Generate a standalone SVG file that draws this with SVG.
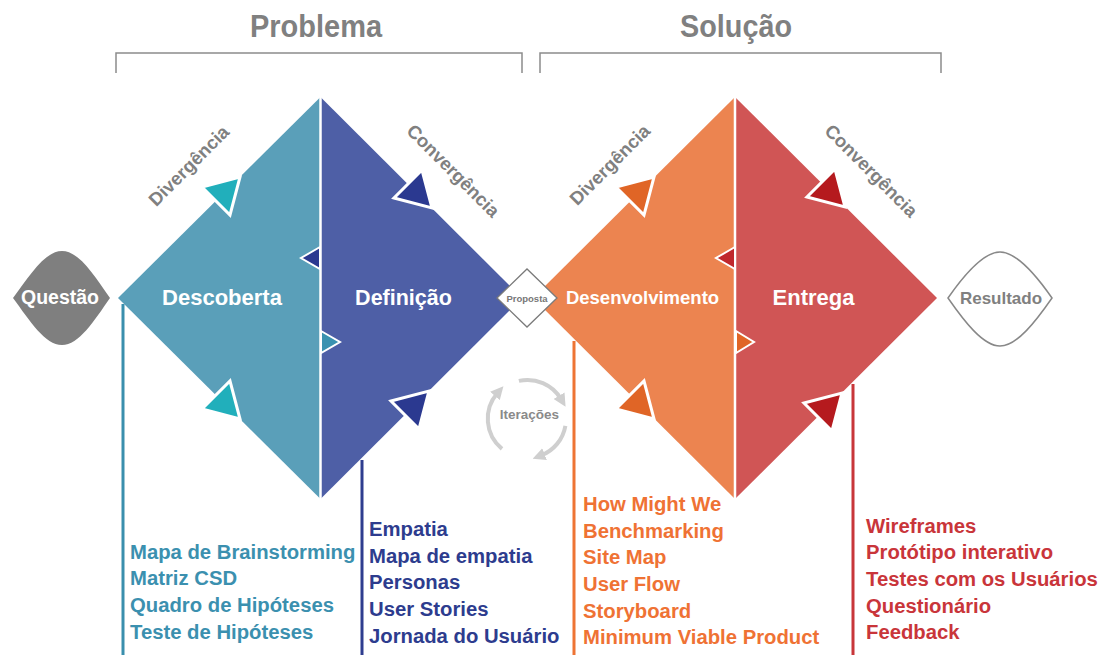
<svg xmlns="http://www.w3.org/2000/svg" width="1106" height="655" viewBox="0 0 1106 655">
<defs>
<style>
text{font-family:"Liberation Sans",Arial,Helvetica,sans-serif;font-weight:bold}
.title{font-size:32px;fill:#808080;text-anchor:middle}
.phase{font-size:18.5px;fill:#808080;text-anchor:middle}
.main{fill:#fff;text-anchor:middle}
.list{font-size:20.3px}
.arw{stroke:#fff;stroke-width:3;stroke-linejoin:miter}
.sm{stroke:#fff;stroke-width:2;stroke-linejoin:miter}
.div{stroke:#fff;stroke-width:2.5}
.brk{fill:none;stroke:#8c8c8c;stroke-width:1.5}
.lead{stroke-width:3;fill:none}
.iter{fill:none;stroke:#cfcfcf;stroke-width:4}
</style>
<marker id="ih" viewBox="0 0 10 10" refX="3" refY="5" markerWidth="3.2" markerHeight="3.2" orient="auto">
<path d="M0,0 L10,5 L0,10z" fill="#cfcfcf"/>
</marker>
</defs>
<rect width="1106" height="655" fill="#fff"/>

<g id="header-problema">
<text class="title" x="316" y="37" textLength="132" lengthAdjust="spacingAndGlyphs">Problema</text>
<path class="brk" d="M116,73 V53 H522 V73"/>
</g>
<g id="header-solucao">
<text class="title" x="736" y="37" textLength="112" lengthAdjust="spacingAndGlyphs">Solução</text>
<path class="brk" d="M540,73 V53 H941 V73"/>
</g>

<g id="questao">
<path d="M13,298 C30,275 45,251 62,251 C79,251 94,275 110,298 C94,321 79,345 62,345 C45,345 30,321 13,298Z" fill="#7f7f7f"/>
<text class="main" x="60" y="304" font-size="19.5">Questão</text>
</g>

<g id="descoberta">
<polygon points="118,298 320.5,97 320.5,499" fill="#5a9fb9"/>
<polygon class="arw" fill="#21afbb" points="202,187 240,177 230,215"/>
<polygon class="arw" fill="#21afbb" points="202,409 240,419 230,381"/>
<text class="main" x="222" y="304.5" font-size="22">Descoberta</text>
<text class="phase" transform="translate(189,166) rotate(-45)" y="6">Divergência</text>
<text class="list" fill="#3b90af" x="130" y="559">Mapa de Brainstorming</text>
<text class="list" fill="#3b90af" x="130" y="585">Matriz CSD</text>
<text class="list" fill="#3b90af" x="130" y="612">Quadro de Hipóteses</text>
<text class="list" fill="#3b90af" x="130" y="639">Teste de Hipóteses</text>
</g>

<g id="definicao">
<polygon points="320.5,97 522,298 320.5,499" fill="#4e5fa6"/>
<polygon class="arw" fill="#2b3990" points="394,198 432,208 422,170"/>
<polygon class="arw" fill="#2b3990" points="391,401 429,391 419,429"/>
<line class="div" x1="320.5" y1="97" x2="320.5" y2="499"/>
<polygon class="sm" fill="#2b3990" points="320,247 301,258 320,269"/>
<polygon class="sm" fill="#3a92b0" points="321,331 340,342 321,353"/>
<text class="main" x="403.5" y="305" font-size="21.5">Definição</text>
<text class="phase" transform="translate(453,171) rotate(45)" y="6">Convergência</text>
<text class="list" fill="#2d3c8e" x="369" y="536">Empatia</text>
<text class="list" fill="#2d3c8e" x="369" y="563">Mapa de empatia</text>
<text class="list" fill="#2d3c8e" x="369" y="589">Personas</text>
<text class="list" fill="#2d3c8e" x="369" y="616">User Stories</text>
<text class="list" fill="#2d3c8e" x="369" y="643">Jornada do Usuário</text>
</g>

<g id="desenvolvimento">
<polygon points="533,298 735,97 735,499" fill="#ec8450"/>
<polygon class="arw" fill="#e06526" points="616,187 654,177 644,215"/>
<polygon class="arw" fill="#e06526" points="616,409 654,419 644,381"/>
<text class="main" x="642.5" y="304" font-size="18.5">Desenvolvimento</text>
<text class="phase" transform="translate(610,165) rotate(-45)" y="6">Divergência</text>
<text class="list" fill="#ef7234" x="583" y="511">How Might We</text>
<text class="list" fill="#ef7234" x="583" y="538">Benchmarking</text>
<text class="list" fill="#ef7234" x="583" y="564">Site Map</text>
<text class="list" fill="#ef7234" x="583" y="591">User Flow</text>
<text class="list" fill="#ef7234" x="583" y="618">Storyboard</text>
<text class="list" fill="#ef7234" x="583" y="644">Minimum Viable Product</text>
</g>

<g id="entrega">
<polygon points="735,97 937,298 735,499" fill="#d05555"/>
<polygon class="arw" fill="#b51a1e" points="807,197 845,207 835,169"/>
<polygon class="arw" fill="#b51a1e" points="804,403 842,393 832,431"/>
<line class="div" x1="735" y1="97" x2="735" y2="499"/>
<polygon class="sm" fill="#c0282d" points="735,247 716,258 735,269"/>
<polygon class="sm" fill="#e06526" points="736,331 754,342 736,353"/>
<text class="main" x="813.5" y="304.5" font-size="22">Entrega</text>
<text class="phase" transform="translate(871,171) rotate(45)" y="6">Convergência</text>
<text class="list" fill="#c9353a" x="866" y="533">Wireframes</text>
<text class="list" fill="#c9353a" x="866" y="559">Protótipo interativo</text>
<text class="list" fill="#c9353a" x="866" y="586">Testes com os Usuários</text>
<text class="list" fill="#c9353a" x="866" y="613">Questionário</text>
<text class="list" fill="#c9353a" x="866" y="639">Feedback</text>
</g>

<g id="proposta">
<polygon points="497,298 527,269 557,298 527,327" fill="#fff" stroke="#7a7a7a" stroke-width="1.3"/>
<text x="527" y="301.5" font-size="9.5" fill="#777" text-anchor="middle">Proposta</text>
</g>

<g id="resultado">
<path d="M948,298 C964,275 983,252 1000,252 C1017,252 1036,275 1052,298 C1036,321 1017,346 1000,346 C983,346 964,321 948,298Z" fill="#fff" stroke="#888" stroke-width="1.5"/>
<text x="1001" y="303.5" font-size="17" fill="#808080" text-anchor="middle">Resultado</text>
</g>

<g id="iteracoes">
<text x="529.5" y="419" font-size="13.5" fill="#8a8a8a" text-anchor="middle">Iterações</text>
</g>

<g id="connectors">
<line class="lead" stroke="#3a8fad" x1="123" y1="304" x2="123" y2="655"/>
<line class="lead" stroke="#2e3d8f" x1="362" y1="460" x2="362" y2="655"/>
<line class="lead" stroke="#ee7434" x1="574" y1="341" x2="574" y2="655"/>
<line class="lead" stroke="#c8363a" x1="853" y1="384" x2="853" y2="655"/>
<path class="iter" marker-end="url(#ih)" d="M502,448.9 A39,39 0 0 1 497.5,393"/>
<path class="iter" marker-end="url(#ih)" d="M518.9,380.9 A39,39 0 0 1 561,399"/>
<path class="iter" marker-end="url(#ih)" d="M565.4,425.8 A39,39 0 0 1 541,455.5"/>
</g>
</svg>
